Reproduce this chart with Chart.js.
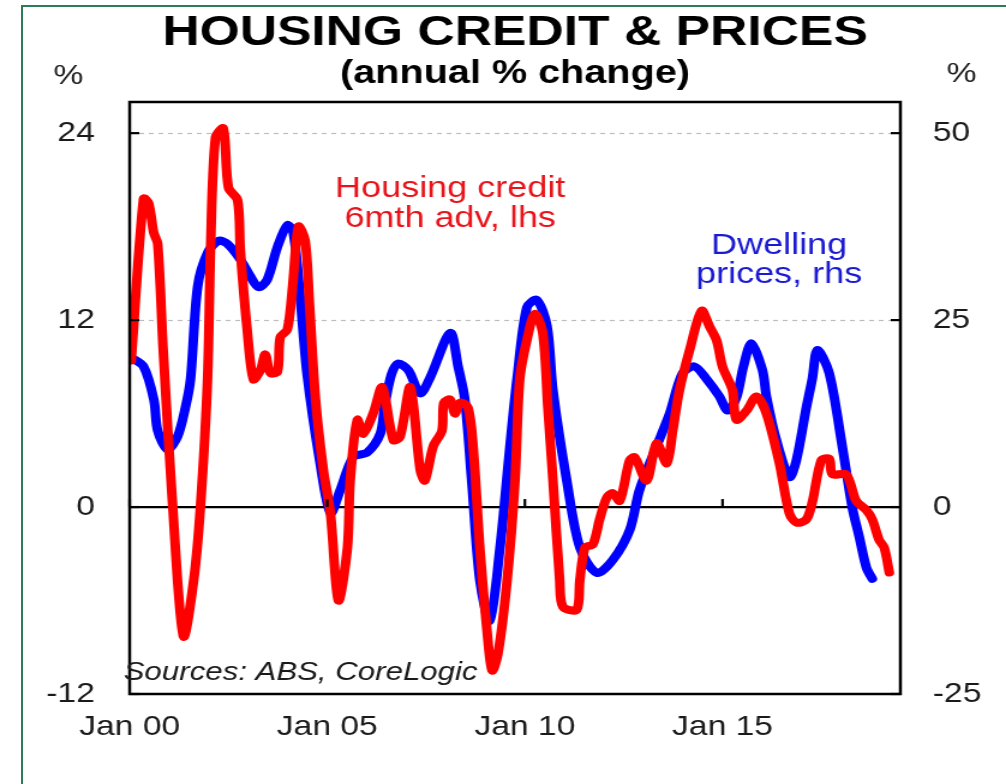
<!DOCTYPE html>
<html>
<head>
<meta charset="utf-8">
<title>Housing credit &amp; prices</title>
<script src="https://cdn.jsdelivr.net/npm/chart.js@4.4.1/dist/chart.umd.min.js"></script>
<style>
    html, body { margin: 0; padding: 0; background: #fff; overflow: hidden; }
    /* green page frame, only top and left edges are visible */
    #frame { position: absolute; left: 21px; top: 5px; width: 1100px; height: 900px;
             border-top: 2px solid #2e7b57; border-left: 2px solid #2e7b57; }
    /* the source picture is stretched sideways, so the chart is too */
    #stretch { position: absolute; left: 0; top: 0; width: 838px; height: 784px;
               transform: scaleX(1.2005); transform-origin: 0 0; }
</style>
</head>
<body>
<div id="frame"></div>
<div id="stretch"><canvas id="chart" width="838" height="784"></canvas></div>
<script>
// Housing credit, 6mth advanced, annual % change (lhs)
const creditDates = [
    2000.04, 2000.35, 2000.48, 2000.61, 2000.71, 2000.85, 2001.09, 2001.36, 2001.62, 2001.79,
    2001.97, 2002.05, 2002.17, 2002.37, 2002.50, 2002.73, 2002.80, 2002.98, 2003.13, 2003.31,
    2003.43, 2003.56, 2003.74, 2003.81, 2003.99, 2004.12, 2004.27, 2004.44, 2004.55, 2004.70,
    2004.90, 2005.08, 2005.28, 2005.51, 2005.58, 2005.76, 2005.91, 2006.16, 2006.39, 2006.67,
    2006.84, 2007.10, 2007.35, 2007.47, 2007.68, 2007.90, 2007.95, 2008.11, 2008.23, 2008.36,
    2008.56, 2008.69, 2008.86, 2009.04, 2009.17, 2009.32, 2009.55, 2009.75, 2009.87, 2010.05,
    2010.25, 2010.45, 2010.58, 2010.71, 2010.88, 2010.96, 2011.31, 2011.39, 2011.52, 2011.72,
    2011.89, 2012.07, 2012.22, 2012.40, 2012.65, 2012.78, 2013.08, 2013.33, 2013.59, 2013.74,
    2013.91, 2014.17, 2014.47, 2014.67, 2014.85, 2015.00, 2015.25, 2015.35, 2015.61, 2015.86,
    2016.11, 2016.44, 2016.69, 2016.87, 2017.12, 2017.27, 2017.50, 2017.70, 2017.78, 2018.13,
    2018.38, 2018.64, 2018.79, 2018.96, 2019.09, 2019.22
];
const creditValues = [
    9.4, 19.8, 19.5, 17.6, 16.9, 10.0, 0.0, -8.3, -4.7, 0.0,
    8.2, 16.9, 23.7, 24.3, 20.5, 19.7, 16.5, 11.2, 8.2, 8.8,
    9.8, 8.6, 8.7, 10.9, 11.4, 14.1, 18.0, 17.1, 13.0, 7.0,
    2.4, -0.4, -6.0, -2.6, 1.7, 5.6, 4.7, 6.0, 7.7, 4.3,
    4.5, 7.7, 2.4, 1.7, 3.9, 4.9, 6.7, 6.9, 6.0, 6.7,
    6.4, 3.9, -2.6, -7.9, -10.5, -9.4, -4.7, 1.7, 8.2, 10.7,
    12.4, 11.2, 6.4, 1.7, -4.7, -6.4, -6.6, -4.7, -2.6, -2.4,
    -0.8, 0.6, 0.9, 0.4, 3.0, 3.2, 1.7, 4.1, 2.8, 4.9,
    7.5, 10.1, 12.6, 11.6, 10.7, 9.0, 7.5, 5.6, 6.2, 7.1,
    6.0, 2.8, -0.4, -1.0, -0.8, 0.3, 3.0, 3.1, 2.1, 2.1,
    0.4, -0.2, -0.8, -2.1, -2.6, -4.2
];

// Dwelling prices, annual % change (rhs)
const priceDates = [
    2000.04, 2000.35, 2000.61, 2000.71, 2000.96, 2001.21, 2001.41, 2001.54, 2001.72, 2001.97,
    2002.25, 2002.47, 2002.80, 2003.06, 2003.26, 2003.48, 2003.74, 2003.99, 2004.14, 2004.32,
    2004.49, 2004.82, 2005.08, 2005.33, 2005.66, 2006.01, 2006.34, 2006.45, 2006.62, 2006.79,
    2007.05, 2007.35, 2007.60, 2008.11, 2008.31, 2008.48, 2008.66, 2008.86, 2009.11, 2009.37,
    2009.62, 2009.80, 2010.05, 2010.30, 2010.56, 2010.71, 2011.06, 2011.39, 2011.82, 2012.22,
    2012.65, 2012.90, 2013.33, 2013.66, 2013.99, 2014.29, 2014.60, 2014.92, 2015.13, 2015.35,
    2015.53, 2015.73, 2016.01, 2016.11, 2016.36, 2016.69, 2016.87, 2017.12, 2017.27, 2017.40,
    2017.70, 2018.03, 2018.28, 2018.46, 2018.64, 2018.79
];
const priceValues = [
    20.0, 18.8, 14.4, 10.2, 7.7, 9.4, 13.3, 17.1, 29.5, 34.0,
    35.6, 35.2, 33.1, 30.8, 29.4, 30.4, 34.8, 37.7, 36.7, 27.7,
    17.7, 5.8, -0.8, 2.3, 6.7, 7.3, 9.8, 13.5, 17.7, 19.2,
    18.3, 15.2, 17.3, 23.3, 18.8, 14.4, 3.1, -9.8, -15.2, -5.4,
    8.1, 17.1, 26.7, 27.7, 24.2, 15.6, 3.5, -5.4, -8.8, -7.1,
    -3.1, 2.3, 8.1, 12.5, 17.9, 18.8, 17.1, 14.8, 12.9, 14.6,
    18.8, 21.9, 18.3, 14.8, 9.0, 4.0, 6.3, 13.3, 17.1, 21.0,
    17.9, 8.1, 0.0, -4.0, -8.1, -9.6
];

const lhsTicks = [-12, 0, 12, 24];
const rhsTicks = [-25, 0, 25, 50];
const yearTicks = [2000, 2005, 2010, 2015];
const yearLabels = ['Jan 00', 'Jan 05', 'Jan 10', 'Jan 15'];

const FONT = '"Liberation Sans", Arial, sans-serif';
const RED = '#ff0000';
const BLUE = '#0000ff';

// grid, frame, inner tick marks and the text labels
const decorPlugin = {
    id: 'decor',
    beforeDatasetsDraw: function(chart) {
        const ctx = chart.ctx;
        const area = chart.chartArea;
        const y = chart.scales.y;
        ctx.save();
        ctx.strokeStyle = '#bdbdbd';
        ctx.lineWidth = 1.2;
        ctx.setLineDash([4, 4]);
        lhsTicks.forEach(v => {
            if (v === 0 || v === y.min) return;
            const py = Math.round(y.getPixelForValue(v)) + 0.5;
            ctx.beginPath();
            ctx.moveTo(area.left, py);
            ctx.lineTo(area.right, py);
            ctx.stroke();
        });
        ctx.setLineDash([]);
        ctx.strokeStyle = '#000';
        ctx.lineWidth = 2.2;
        const zero = y.getPixelForValue(0);
        ctx.beginPath();
        ctx.moveTo(area.left, zero);
        ctx.lineTo(area.right, zero);
        ctx.stroke();
        ctx.restore();
    },
    afterDatasetsDraw: function(chart) {
        const ctx = chart.ctx;
        const area = chart.chartArea;
        const x = chart.scales.x;
        const y = chart.scales.y;
        const y1 = chart.scales.y1;
        ctx.save();
        ctx.strokeStyle = '#000';
        ctx.lineWidth = 2.5;
        ctx.strokeRect(area.left, area.top, area.right - area.left, area.bottom - area.top);

        // ticks pointing into the plot
        ctx.lineWidth = 2.2;
        lhsTicks.forEach(v => {
            const py = y.getPixelForValue(v);
            ctx.beginPath();
            ctx.moveTo(area.left, py);
            ctx.lineTo(area.left + 8, py);
            ctx.stroke();
        });
        rhsTicks.forEach(v => {
            const py = y1.getPixelForValue(v);
            ctx.beginPath();
            ctx.moveTo(area.right - 8, py);
            ctx.lineTo(area.right, py);
            ctx.stroke();
        });
        const zero = y.getPixelForValue(0);
        yearTicks.forEach(v => {
            const px = x.getPixelForValue(v);
            ctx.beginPath();
            ctx.moveTo(px, zero);
            ctx.lineTo(px, zero - 8);
            ctx.stroke();
        });

        // titles and notes
        ctx.textAlign = 'center';
        ctx.textBaseline = 'alphabetic';
        ctx.fillStyle = '#000';
        ctx.font = 'bold 43px ' + FONT;
        ctx.fillText('HOUSING CREDIT & PRICES', 429, 45);
        ctx.font = 'bold 33px ' + FONT;
        ctx.fillText('(annual % change)', 429, 83);
        ctx.fillStyle = '#1a1a1a';
        ctx.font = '28px ' + FONT;
        ctx.fillText('%', 57, 84);
        ctx.fillText('%', 801, 82);

        ctx.fillStyle = '#e8141a';
        ctx.font = '30px ' + FONT;
        ctx.fillText('Housing credit', 375, 197);
        ctx.fillText('6mth adv, lhs', 375, 227);
        ctx.fillStyle = '#1a1ad2';
        ctx.fillText('Dwelling', 649, 254);
        ctx.fillText('prices, rhs', 649, 283);

        ctx.textAlign = 'left';
        ctx.fillStyle = '#1a1a1a';
        ctx.font = 'italic 26px ' + FONT;
        ctx.fillText('Sources: ABS, CoreLogic', 103, 680);
        ctx.restore();
    }
};

const HousingChart = {
    init: function(canvas) {
        this.canvas = canvas;
        this.render();
    },

    toPoints: function(dates, values) {
        return dates.map((d, i) => ({ x: d, y: values[i] }));
    },

    render: function() {
        const tickFont = { family: FONT, size: 28 };
        this.chart = new Chart(this.canvas.getContext('2d'), {
            type: 'line',
            data: {
                datasets: [
                    {
                        label: 'Housing credit, 6mth adv, lhs',
                        data: this.toPoints(creditDates, creditValues),
                        yAxisID: 'y',
                        borderColor: RED,
                        borderWidth: 8,
                        pointRadius: 0,
                        tension: 0.3,
                        borderJoinStyle: 'round',
                        borderCapStyle: 'round',
                        order: 0
                    },
                    {
                        label: 'Dwelling prices, rhs',
                        data: this.toPoints(priceDates, priceValues),
                        yAxisID: 'y1',
                        borderColor: BLUE,
                        borderWidth: 8,
                        pointRadius: 0,
                        tension: 0.3,
                        borderJoinStyle: 'round',
                        borderCapStyle: 'round',
                        order: 1
                    }
                ]
            },
            options: {
                responsive: false,
                animation: false,
                devicePixelRatio: 1,
                events: [],
                layout: { padding: { top: 102, left: 0, right: 0, bottom: 0 } },
                plugins: { legend: { display: false }, tooltip: { enabled: false } },
                scales: {
                    x: {
                        type: 'linear',
                        position: 'bottom',
                        min: 2000,
                        max: 2019.5,
                        grid: { display: false, drawTicks: false },
                        border: { display: false },
                        afterBuildTicks: function(scale) {
                            scale.ticks = yearTicks.map(v => ({ value: v }));
                        },
                        afterFit: function(scale) { scale.height = 90; },
                        ticks: {
                            autoSkip: false,
                            maxRotation: 0,
                            padding: 16,
                            color: '#1a1a1a',
                            font: tickFont,
                            callback: function(value) {
                                return yearLabels[yearTicks.indexOf(value)];
                            }
                        }
                    },
                    y: {
                        position: 'left',
                        min: -12,
                        max: 26,
                        grid: { display: false, drawTicks: false },
                        border: { display: false },
                        afterBuildTicks: function(scale) {
                            scale.ticks = lhsTicks.map(v => ({ value: v }));
                        },
                        afterFit: function(scale) { scale.width = 108; },
                        ticks: { padding: 29, color: '#1a1a1a', font: tickFont }
                    },
                    y1: {
                        position: 'right',
                        min: -25,
                        max: 26 * 50 / 24,
                        grid: { display: false, drawTicks: false },
                        border: { display: false },
                        afterBuildTicks: function(scale) {
                            scale.ticks = rhsTicks.map(v => ({ value: v }));
                        },
                        afterFit: function(scale) { scale.width = 88; },
                        ticks: { padding: 27, color: '#1a1a1a', font: tickFont }
                    }
                }
            },
            plugins: [decorPlugin]
        });
    }
};

HousingChart.init(document.getElementById('chart'));
</script>
</body>
</html>
